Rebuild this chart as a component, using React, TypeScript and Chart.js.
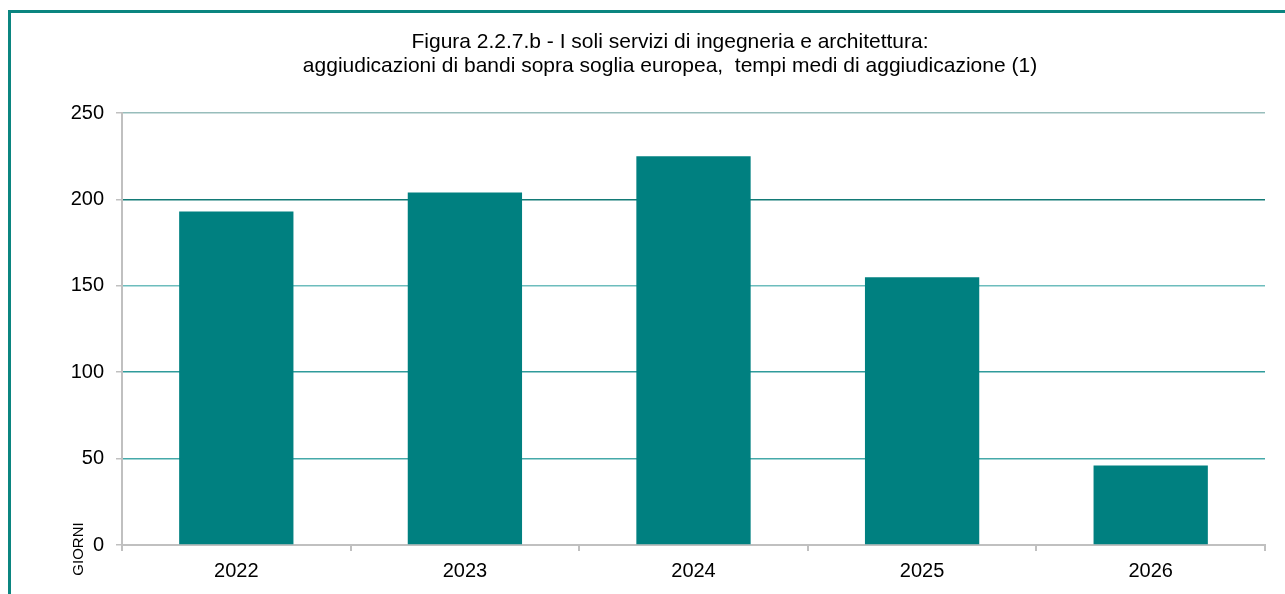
import React, { useEffect, useRef } from "react";
import { Chart, registerables } from "chart.js";

Chart.register(...registerables);

const categories = ["2022", "2023", "2024", "2025", "2026"];
const giorni = [193, 204, 225, 155, 46];
const yTicks = [0, 50, 100, 150, 200, 250];
const titleLines = [
  "Figura 2.2.7.b - I soli servizi di ingegneria e architettura:",
  "aggiudicazioni di bandi sopra soglia europea,  tempi medi di aggiudicazione (1)",
];
const yAxisTitle = "GIORNI";

const FONT = "Arial, 'Liberation Sans', sans-serif";
const TEAL = "#008080";
const GRAY = "#c0c0c0";
const gridColors: Record<number, string> = {
  0: "transparent",
  50: "#45a9a9",
  100: "#2f9b9b",
  150: "#6dbdbd",
  200: "#137a76",
  250: "#98bdbb",
};

const textPlugin = {
  id: "customText",
  afterDraw(chart: any) {
    const ctx = chart.ctx;
    ctx.save();
    ctx.fillStyle = "#000";
    ctx.font = `21px ${FONT}`;
    ctx.textAlign = "center";
    ctx.textBaseline = "alphabetic";
    ctx.fillText(titleLines[0], 670, 48);
    ctx.fillText(titleLines[1], 670, 72);
    ctx.translate(78, 549);
    ctx.rotate(-Math.PI / 2);
    ctx.font = `15px ${FONT}`;
    ctx.textBaseline = "middle";
    ctx.fillText(yAxisTitle, 0, 1);
    ctx.restore();
  },
};

export default function App() {
  const ref = useRef<HTMLCanvasElement | null>(null);
  useEffect(() => {
    if (!ref.current) return;
    const chart = new Chart(ref.current, {
      type: "bar",
      data: {
        labels: categories,
        datasets: [
          {
            data: giorni,
            backgroundColor: TEAL,
            barPercentage: 0.5,
            categoryPercentage: 1,
          },
        ],
      },
      options: {
        responsive: false,
        animation: false,
        devicePixelRatio: 1,
        layout: { padding: { top: 113, right: 20, left: 0, bottom: 0 } },
        plugins: {
          legend: { display: false },
          title: { display: false },
          tooltip: { enabled: false },
        },
        scales: {
          x: {
            offset: true,
            grid: {
              offset: true,
              drawOnChartArea: true,
              color: (c: any) => (c.index === categories.length ? GRAY : "transparent"),
              tickColor: GRAY,
              tickLength: 6,
              lineWidth: 2,
            },
            border: { color: GRAY, width: 2 },
            ticks: {
              color: "#000",
              font: { family: FONT, size: 20 },
              padding: 8,
              maxRotation: 0,
            },
            afterFit: (s: any) => {
              s.height = 49;
            },
          },
          y: {
            min: 0,
            max: 250,
            afterBuildTicks: (s: any) => {
              s.ticks = yTicks.map((v) => ({ value: v }));
            },
            grid: {
              color: (c: any) => gridColors[c.tick?.value] ?? TEAL,
              tickColor: GRAY,
              tickLength: 6,
              lineWidth: 1.5,
            },
            border: { color: GRAY, width: 2 },
            ticks: {
              color: "#000",
              font: { family: FONT, size: 20 },
              padding: 12,
            },
            afterFit: (s: any) => {
              s.width = 122;
            },
          },
        },
      },
      plugins: [textPlugin],
    });
    return () => chart.destroy();
  }, []);

  return (
    <div
      style={{
        position: "fixed",
        left: 0,
        top: 0,
        width: 1285,
        height: 594,
        overflow: "hidden",
        background: "#fff",
      }}
    >
      <div
        style={{
          position: "absolute",
          left: 8,
          top: 10,
          width: 1400,
          height: 700,
          border: "3px solid #0b8580",
          boxSizing: "border-box",
        }}
      />
      <canvas
        ref={ref}
        width={1285}
        height={594}
        style={{ position: "absolute", left: 0, top: 0, width: 1285, height: 594 }}
      />
    </div>
  );
}
